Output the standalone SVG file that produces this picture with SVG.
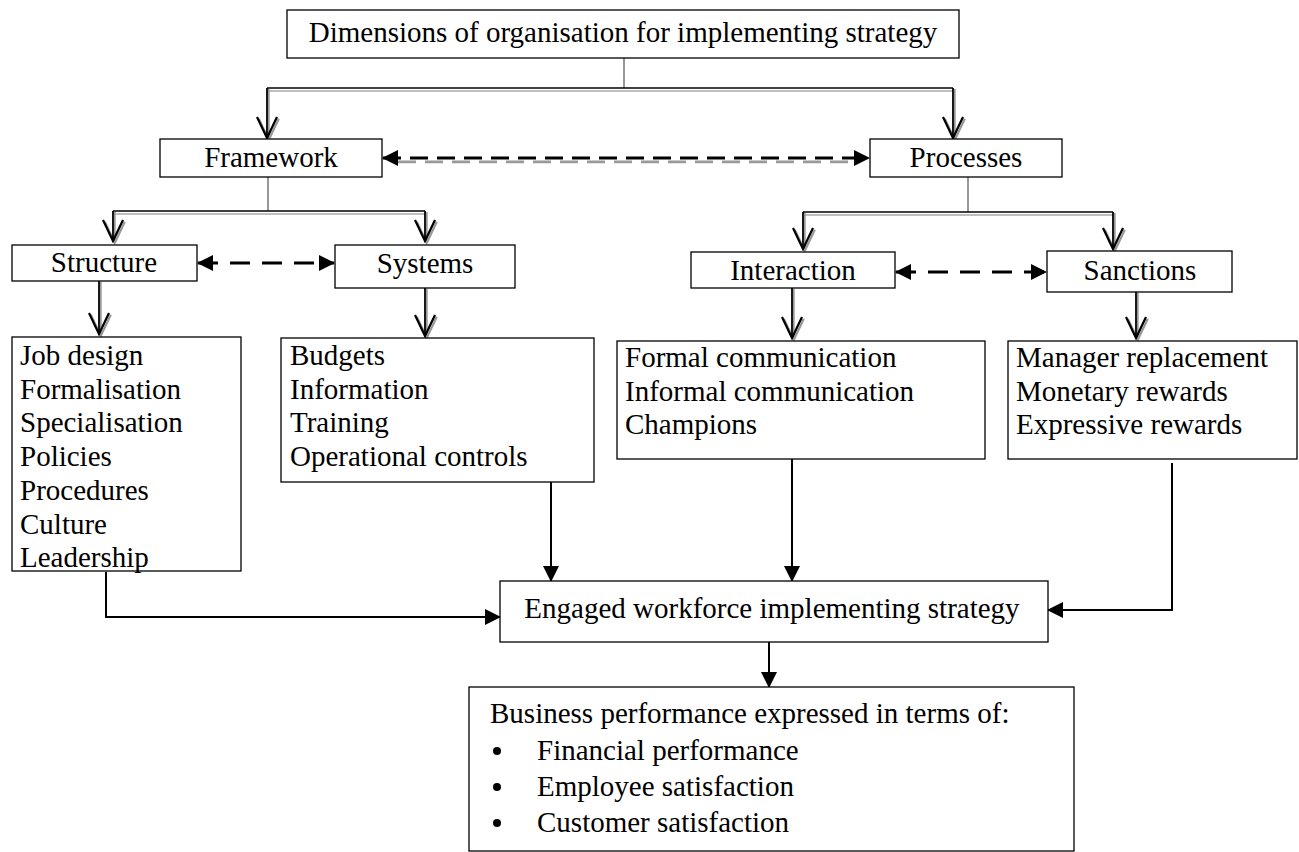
<svg xmlns="http://www.w3.org/2000/svg" width="1299" height="852" viewBox="0 0 1299 852">
<defs>
<style>
text{font-family:"Liberation Serif","Times New Roman",serif;font-size:29px;fill:#000}
.c{text-anchor:middle}
.box{fill:#fff;stroke:#000;stroke-width:1.3}
.stem{stroke:#555;stroke-width:1.2;fill:none}
.bar{stroke:#000;stroke-width:1.4;fill:none}
.barsh{stroke:#aaa;stroke-width:1.6;fill:none}
.dn{stroke:#000;stroke-width:1.8;fill:none;marker-end:url(#vopen)}
.dnsh{stroke:#999;stroke-width:1.8;fill:none;marker-end:url(#vshadow)}
.solid{stroke:#000;stroke-width:2;fill:none;marker-end:url(#fill)}
.dash{stroke:#000;stroke-width:3.2;fill:none;stroke-dasharray:18 9;marker-start:url(#fill);marker-end:url(#fill)}
.dashsh{stroke:#999;stroke-width:2.8;fill:none;stroke-dasharray:18 9}
.dash2{stroke:#000;stroke-width:2.8;fill:none;stroke-dasharray:20 12;marker-start:url(#fill);marker-end:url(#fill)}
</style>
<marker id="vopen" markerUnits="userSpaceOnUse" viewBox="0 0 24 22" refX="22" refY="11" markerWidth="24" markerHeight="22" orient="auto">
<path d="M1,1 L22,11 L1,21" fill="none" stroke="#000" stroke-width="2.2"/>
</marker>
<marker id="vshadow" markerUnits="userSpaceOnUse" viewBox="0 0 24 22" refX="22" refY="11" markerWidth="24" markerHeight="22" orient="auto">
<path d="M1,1 L22,11 L1,21" fill="none" stroke="#999" stroke-width="2.2"/>
</marker>
<marker id="fill" markerUnits="userSpaceOnUse" viewBox="0 0 16 16" refX="15" refY="8" markerWidth="16" markerHeight="16" orient="auto-start-reverse">
<path d="M0,0 L16,8 L0,16 z" fill="#000"/>
</marker>
</defs>
<rect width="1299" height="852" fill="#fff"/>

<g id="connectors">
<line class="stem" x1="624" y1="58" x2="624" y2="88"/>
<line class="barsh" x1="267" y1="91" x2="953" y2="91"/>
<line class="bar" x1="267" y1="88" x2="953" y2="88"/>
<line class="dnsh" x1="268.8" y1="89" x2="268.8" y2="139.8"/>
<line class="dn" x1="267" y1="88" x2="267" y2="138"/>
<line class="dnsh" x1="954.8" y1="89" x2="954.8" y2="139.8"/>
<line class="dn" x1="953" y1="88" x2="953" y2="138"/>
<line class="dashsh" x1="398" y1="161.8" x2="854" y2="161.8"/>
<line class="dash" x1="383" y1="158" x2="869" y2="158"/>
<line class="stem" x1="268" y1="177" x2="268" y2="211"/>
<line class="barsh" x1="113" y1="214" x2="425" y2="214"/>
<line class="bar" x1="113" y1="211" x2="425" y2="211"/>
<line class="dnsh" x1="114.8" y1="212" x2="114.8" y2="242.8"/>
<line class="dn" x1="113" y1="211" x2="113" y2="241"/>
<line class="dnsh" x1="426.8" y1="212" x2="426.8" y2="242.8"/>
<line class="dn" x1="425" y1="211" x2="425" y2="241"/>
<line class="dash2" x1="198" y1="263" x2="334" y2="263"/>
<line class="stem" x1="968" y1="177" x2="968" y2="212"/>
<line class="barsh" x1="803" y1="215" x2="1113" y2="215"/>
<line class="bar" x1="803" y1="212" x2="1113" y2="212"/>
<line class="dnsh" x1="804.8" y1="213" x2="804.8" y2="250.8"/>
<line class="dn" x1="803" y1="212" x2="803" y2="249"/>
<line class="dnsh" x1="1114.8" y1="213" x2="1114.8" y2="250.8"/>
<line class="dn" x1="1113" y1="212" x2="1113" y2="249"/>
<line class="dash2" x1="896" y1="272" x2="1046" y2="272"/>
<line class="dnsh" x1="100.8" y1="282" x2="100.8" y2="335.8"/>
<line class="dn" x1="99" y1="281" x2="99" y2="334"/>
<line class="dnsh" x1="426.8" y1="289" x2="426.8" y2="337.8"/>
<line class="dn" x1="425" y1="288" x2="425" y2="336"/>
<line class="dnsh" x1="793.8" y1="289" x2="793.8" y2="339.8"/>
<line class="dn" x1="792" y1="288" x2="792" y2="338"/>
<line class="dnsh" x1="1137.8" y1="293" x2="1137.8" y2="339.8"/>
<line class="dn" x1="1136" y1="292" x2="1136" y2="338"/>
<path class="solid" d="M106,572 V617 H500"/>
<line class="solid" x1="551" y1="482" x2="551" y2="581"/>
<line class="solid" x1="792" y1="459" x2="792" y2="581"/>
<path class="solid" d="M1172,463 V610 H1048"/>
<line class="solid" x1="769" y1="642" x2="769" y2="687"/>
</g>

<g id="title">
<rect class="box" x="287" y="10" width="672" height="48"/>
<text class="c" x="623" y="42">Dimensions of organisation for implementing strategy</text>
</g>
<g id="framework">
<rect class="box" x="160" y="139" width="222" height="38"/>
<text class="c" x="271" y="167">Framework</text>
</g>
<g id="processes">
<rect class="box" x="870" y="139" width="192" height="38"/>
<text class="c" x="966" y="167">Processes</text>
</g>
<g id="structure">
<rect class="box" x="12" y="245" width="185" height="36"/>
<text class="c" x="104" y="272">Structure</text>
</g>
<g id="systems">
<rect class="box" x="335" y="245" width="180" height="43"/>
<text class="c" x="425" y="273">Systems</text>
</g>
<g id="interaction">
<rect class="box" x="691" y="252" width="204" height="36"/>
<text class="c" x="793" y="280">Interaction</text>
</g>
<g id="sanctions">
<rect class="box" x="1047" y="251" width="185" height="41"/>
<text class="c" x="1140" y="280">Sanctions</text>
</g>
<g id="structure-items">
<rect class="box" x="12" y="337" width="229" height="234"/>
<text x="20" y="365">Job design</text>
<text x="20" y="398.7">Formalisation</text>
<text x="20" y="432.4">Specialisation</text>
<text x="20" y="466">Policies</text>
<text x="20" y="499.8">Procedures</text>
<text x="20" y="533.5">Culture</text>
<text x="20" y="567">Leadership</text>
</g>
<g id="systems-items">
<rect class="box" x="281" y="338" width="313" height="144"/>
<text x="290" y="365">Budgets</text>
<text x="290" y="398.7">Information</text>
<text x="290" y="432.4">Training</text>
<text x="290" y="466">Operational controls</text>
</g>
<g id="interaction-items">
<rect class="box" x="617" y="341" width="368" height="118"/>
<text x="625" y="367">Formal communication</text>
<text x="625" y="400.7">Informal communication</text>
<text x="625" y="434.4">Champions</text>
</g>
<g id="sanctions-items">
<rect class="box" x="1008" y="341" width="289" height="118"/>
<text x="1016" y="367">Manager replacement</text>
<text x="1016" y="400.7">Monetary rewards</text>
<text x="1016" y="434.4">Expressive rewards</text>
</g>
<g id="engaged">
<rect class="box" x="500" y="581" width="548" height="61"/>
<text class="c" x="772" y="618">Engaged workforce implementing strategy</text>
</g>
<g id="business">
<rect class="box" x="469" y="687" width="605" height="164"/>
<text x="490" y="723">Business performance expressed in terms of:</text>
<circle cx="497" cy="751" r="4"/>
<text x="537" y="760">Financial performance</text>
<circle cx="497" cy="787" r="4"/>
<text x="537" y="796">Employee satisfaction</text>
<circle cx="497" cy="823" r="4"/>
<text x="537" y="832">Customer satisfaction</text>
</g>
</svg>
